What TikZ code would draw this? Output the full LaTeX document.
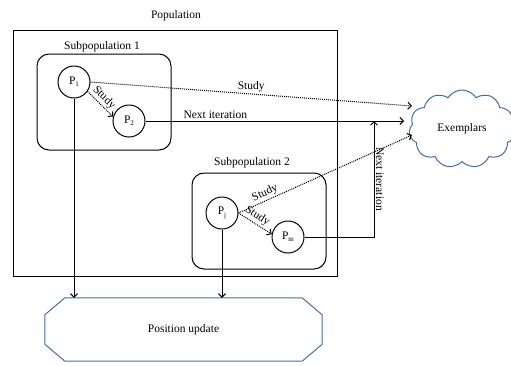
\documentclass[tikz,border=0pt]{standalone}
\usepackage{fontspec}
\setmainfont{Liberation Serif}
\usetikzlibrary{arrows.meta,shapes.symbols,calc}
\definecolor{blueline}{RGB}{68,110,165}
\newcommand{\Psub}[1]{P\raisebox{-2.2pt}{\fontsize{7}{8}\selectfont #1}}
\begin{document}
\begin{tikzpicture}[x=1pt,y=-1pt,
  every node/.style={font=\fontsize{11.5}{13}\selectfont},
  pnode/.style={circle,draw,line width=1pt,minimum size=32pt,inner sep=0pt},
  subbox/.style={draw,line width=1pt,rounded corners=12pt},
  solidarrow/.style={line width=1pt,-{Straight Barb[length=3.5pt,width=7pt]}},
  dotarrow/.style={line width=1pt,dash pattern=on 1pt off 1pt,-{Straight Barb[length=3.5pt,width=7pt]}},
  lbl/.style={inner sep=1.5pt}]
\useasboundingbox (0,0) rectangle (511,365);
% population
\node (poplbl) at (176,16) {Population};
\draw[line width=1pt] (13,30) rectangle (337,276);
% subpopulations
\draw[subbox] (37,54) rectangle (171,150);
\node (s1lbl) at (102,47) {Subpopulation 1};
\draw[subbox] (192,173) rectangle (326,269);
\node (s2lbl) at (252,163) {Subpopulation 2};
% particles
\node[pnode] (P1) at (74,82) {\Psub{1}};
\node[pnode] (P2) at (129,121) {\Psub{2}};
\node[pnode] (Pj) at (222,213) {\Psub{j}};
\node[pnode] (Pm) at (288,237) {\Psub{m}};
% exemplars
\node[cloud,draw=blueline,line width=1pt,cloud puffs=11,cloud puff arc=115,
      minimum width=106pt,minimum height=78pt,aspect=1.4] (ex) at (462,129) {Exemplars};
\coordinate (e1) at (412,106);
\coordinate (e2) at (404,121);
\coordinate (e3) at (412,135);
\coordinate (ni) at (374,121);
% position update
\node[minimum width=277pt,minimum height=63pt,inner sep=0pt] (pu) at (183.5,329.5) {Position update};
\draw[blueline,line width=1pt]
  ($(pu.north west)+(20,0)$) -- ($(pu.north east)+(-20,0)$) -- ($(pu.north east)+(0,17)$)
  -- ($(pu.south east)+(0,-17)$) -- ($(pu.south east)+(-20,0)$) -- ($(pu.south west)+(20,0)$)
  -- ($(pu.south west)+(0,-17)$) -- ($(pu.north west)+(0,17)$) -- cycle;
% connectors
\draw[dotarrow] (P1.east) -- node[lbl,above,pos=0.5] {Study} (e1);
\draw[solidarrow] (P2.east) -- node[lbl,above,pos=0.27] {Next iteration} (e2);
\draw[dotarrow] (P1.-35) -- node[lbl,above,sloped,pos=0.45] {Study} (P2.165);
\draw[dotarrow] (Pj.east) -- node[lbl,above,sloped,pos=0.17] {Study} (e3);
\draw[dotarrow] (Pj.east) -- node[lbl,above,sloped,pos=0.45] {Study} (Pm.170);
\draw[solidarrow] (Pm.east) -| node[lbl,pos=0.75,right,rotate=-90,anchor=south,xshift=0pt] {Next iteration} (ni);
\draw[solidarrow] (P1.south) -- (P1 |- pu.north);
\draw[solidarrow] (Pj.south) -- (Pj |- pu.north);
\end{tikzpicture}
\end{document}
